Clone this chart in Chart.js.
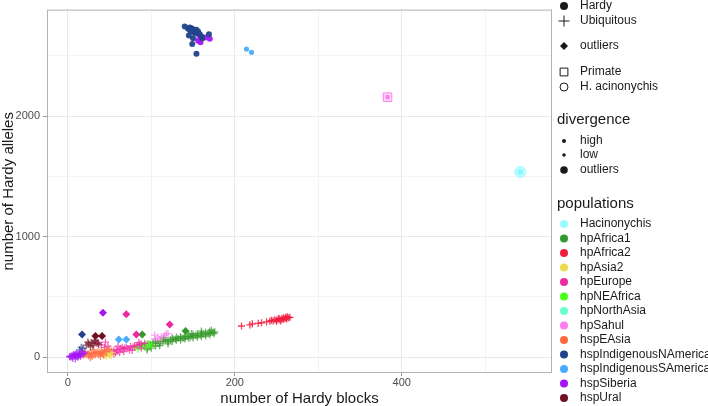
<!DOCTYPE html>
<html>
<head>
<meta charset="utf-8">
<script src="https://cdn.jsdelivr.net/npm/chart.js@4/dist/chart.umd.min.js"></script>
<style>
  html, body { margin:0; padding:0; background:#fff; }
  #wrap { width:708px; height:406px; }
</style>
</head>
<body>
<div id="wrap"><canvas id="c" width="708" height="406"></canvas></div>
<script>
// --- populations & colours ---
const populations = ['Hacinonychis','hpAfrica1','hpAfrica2','hpAsia2','hpEurope','hpNEAfrica','hpNorthAsia',
  'hpSahul','hspEAsia','hspIndigenousNAmerica','hspIndigenousSAmerica','hspSiberia','hspUral'];
const popColors = ['#99fcff','#33992a','#f21d41','#ebdc4f','#ee2a9f','#4cff19','#6bffcc',
  '#ff7cf0','#ff6a3d','#21448a','#4aacff','#a516f5','#6f0f1f'];
const col = name => popColors[populations.indexOf(name)];

// axis ticks (major ones get labels)
const xTicks = [0, 100, 200, 300, 400, 500];
const xLabelled = [0, 200, 400];
const yTicks = [0, 500, 1000, 1500, 2000, 2500];
const yLabelled = [0, 1000, 2000];

// --- Hardy genes (circles) ---
const hardyNAmerica = [[140,2744],[146,2736],[154,2716],[145,2669],[150,2647],[149,2598],[154,2518],[169,2680],
  [161,2647],[151,2698],[156,2702],[150,2720],[152,2690],[158,2680],[147,2705],[160,2660],[144,2725],[148,2730]];
const hardySiberia = [[157,2674],[164,2653],[170,2642],[159,2612],[156,2626]];
const hardySAmerica = [[214,2556],[220,2529]];

// --- Ubiquitous genes (crosses) ---
const ubiSiberia = [[2,5],[4,10],[5,3],[6,15],[8,12],[9,20],[10,8],[11,18],[12,25],[13,14],[14,22],[15,28],
  [16,20],[18,30],[7,22],[3,0],[10,30],[20,35],[6,-10],[12,0],[9,-15],[15,5],[17,45]];
const ubiUral = [[22,100],[25,110],[28,120],[30,95],[32,130],[35,115],[37,105],[27,85],[33,140],[24,125]];
const ubiNAmerica = [[14,60],[16,80],[18,70]];
const ubiEAsia = [[18,15],[20,25],[22,20],[24,30],[26,22],[28,35],[30,28],[32,40],[34,33],[36,45],[38,38],
  [40,50],[42,42],[44,55],[46,48],[48,60],[25,10],[33,18],[41,30],[50,65],[29,5],[37,20],[21,45],[31,60],
  [43,15],[27,-5],[39,5]];
const ubiAsia2 = [[45,20],[47,30],[49,25],[51,35],[53,40],[50,15],[46,5],[52,10]];
const ubiEurope = [[52,45],[55,55],[58,60],[60,50],[63,70],[66,65],[68,75],[70,80],[72,70],[75,90],[78,85],
  [80,95],[83,100],[86,105],[88,110],[92,115],[57,35],[65,80],[74,60],[85,120],[44,80],[48,90],[62,40],
  [30,110],[36,120],[40,100],[45,125],[55,25],[67,45],[77,55],[88,75],[60,90]];
const ubiSahul = [[104,150],[108,165],[112,170],[116,180],[120,195],[110,145],[104,182],[118,195]];
const ubiNEAfrica = [[80,80],[83,90],[86,85],[89,95],[92,100],[95,105],[98,110],[100,100],[84,65],[94,80]];
const ubiAfrica1 = [[90,95],[93,100],[96,110],[99,105],[102,120],[105,115],[108,125],[111,130],[114,128],
  [117,140],[120,135],[123,145],[126,150],[129,148],[132,155],[135,160],[138,158],[141,165],[144,170],
  [147,168],[150,175],[153,180],[156,178],[159,185],[162,190],[165,188],[168,195],[171,200],[174,205],
  [176,210],[100,95],[110,112],[120,125],[130,140],[140,150],[150,160],[160,170],[170,185],[115,145],
  [125,160],[135,170],[145,185],[155,195],[165,205],[95,70],[105,90],[95,60],[100,75],[105,130],[110,95],
  [115,160],[120,110],[125,130],[130,165],[135,140],[140,175],[145,155],[150,190],[155,165],[160,200],
  [165,175],[170,215],[175,195],[172,225],[160,215],[148,195]];
const ubiAfrica2 = [[208,258],[218,268],[221,275],[228,280],[232,285],[238,292],[242,298],[246,300],[248,310],
  [250,305],[252,315],[254,308],[256,318],[258,312],[260,322],[262,318],[264,325],[258,325],[250,298],
  [255,300],[261,330],[266,330],[244,305],[253,322],[263,335]];

// --- outliers (diamonds) ---
const outNAmerica = [[17,188]];
const outUral = [[33,176],[41,176]];
const outSiberia = [[42,369]];
const outEurope = [[70,355],[122,270],[82,188]];
const outSAmerica = [[61,146],[70,146]];
const outAfrica1 = [[89,188],[141,217]];

// --- Primate / H. acinonychis ---
const primate = [[383,2157]];
const acinonychis = [[542,1537]];

// legend entries
const shapeLabels = ['Hardy','Ubiquitous','outliers','Primate','H. acinonychis'];
const divergenceLabels = ['high','low','outliers'];

const FONT = '"Liberation Sans", Arial, sans-serif';
Chart.defaults.font.family = FONT;

const pts = a => a.map(p => ({x:p[0], y:p[1]}));
const alpha = (hex, a) => {
  const n = parseInt(hex.slice(1), 16);
  return `rgba(${n>>16},${(n>>8)&255},${n&255},${a})`;
};

function cross(data, pop, a) {
  return { data: pts(data), pointStyle:'cross', pointRadius:3.6, borderWidth:1.3,
    borderColor: alpha(col(pop), a || 0.7), backgroundColor: alpha(col(pop), a || 0.7) };
}
function circle(data, pop, r) {
  return { data: pts(data), pointStyle:'circle', pointRadius:r, borderWidth:0,
    backgroundColor: alpha(col(pop), 0.95), borderColor: alpha(col(pop), 0.95) };
}
function diamond(data, pop) {
  return { data: pts(data), pointStyle:'rectRot', pointRadius:4, borderWidth:0,
    backgroundColor: col(pop), borderColor: col(pop) };
}

const datasets = [
  cross(ubiSiberia,'hspSiberia'),
  cross(ubiNAmerica,'hspIndigenousNAmerica'),
  cross(ubiUral,'hspUral'),
  cross(ubiEAsia,'hspEAsia'),
  cross(ubiAsia2,'hpAsia2'),
  cross(ubiEurope,'hpEurope'),
  cross(ubiSahul,'hpSahul'),
  cross(ubiNEAfrica,'hpNEAfrica'),
  cross(ubiAfrica1,'hpAfrica1'),
  cross(ubiAfrica2,'hpAfrica2', 0.85),
  diamond(outNAmerica,'hspIndigenousNAmerica'),
  diamond(outUral,'hspUral'),
  diamond(outSiberia,'hspSiberia'),
  diamond(outEurope,'hpEurope'),
  diamond(outSAmerica,'hspIndigenousSAmerica'),
  diamond(outAfrica1,'hpAfrica1'),
  circle(hardyNAmerica,'hspIndigenousNAmerica',3),
  circle(hardySiberia,'hspSiberia',3),
  circle(hardySAmerica,'hspIndigenousSAmerica',2.6),
  { data: pts(primate), pointStyle:'rect', pointRadius:6, borderWidth:1, borderColor: col('hpSahul'),
    backgroundColor: alpha(col('hpSahul'), 0.25) },
  { data: pts(primate), pointStyle:'rect', pointRadius:3, borderWidth:0, backgroundColor: col('hpSahul') },
  { data: pts(acinonychis), pointStyle:'circle', pointRadius:5.5, borderWidth:1, borderColor: alpha(col('Hacinonychis'),0.9),
    backgroundColor: alpha(col('Hacinonychis'), 0.6) },
  { data: pts(acinonychis), pointStyle:'circle', pointRadius:3, borderWidth:0, backgroundColor: '#7ff0f8' }
];

// panel border + right side legend
const sideLegend = {
  id: 'sideLegend',
  afterDatasetsDraw(chart) {
    const {ctx, chartArea: a} = chart;
    ctx.save();
    ctx.strokeStyle = '#b3b3b3';
    ctx.lineWidth = 1;
    ctx.strokeRect(a.left + 0.5, a.top + 0.5, a.right - a.left - 1, a.bottom - a.top - 1);
    ctx.restore();
  },
  afterDraw(chart) {
    const ctx = chart.ctx;
    const draw = Chart.helpers.drawPoint;
    ctx.save();
    ctx.textBaseline = 'middle';
    ctx.textAlign = 'left';
    ctx.fillStyle = '#1a1a1a';
    ctx.strokeStyle = '#1a1a1a';
    ctx.font = '12px ' + FONT;
    const sx = 564, tx = 580;

    // shape legend
    const shapeY = [6, 21, 46, 72, 87];
    const shapeStyle = [
      {pointStyle:'circle', radius:4, borderWidth:0},
      {pointStyle:'cross', radius:5.5, borderWidth:1},
      {pointStyle:'rectRot', radius:4, borderWidth:0},
      {pointStyle:'rect', radius:5.5, borderWidth:1},
      {pointStyle:'circle', radius:4, borderWidth:1}
    ];
    shapeLabels.forEach((lab, i) => {
      const st = shapeStyle[i];
      ctx.fillStyle = i >= 3 ? 'rgba(0,0,0,0)' : '#1a1a1a';
      draw(ctx, st, sx, shapeY[i]);
      ctx.fillStyle = '#1a1a1a';
      ctx.fillText(lab, tx, shapeY[i]);
    });

    // divergence legend
    ctx.font = '15px ' + FONT;
    ctx.fillText('divergence', 557, 120);
    ctx.font = '12px ' + FONT;
    const divY = [141, 155, 170];
    const divR = [2, 1.8, 3.8];
    divergenceLabels.forEach((lab, i) => {
      draw(ctx, {pointStyle:'circle', radius:divR[i], borderWidth:0}, sx, divY[i]);
      ctx.fillText(lab, tx, divY[i]);
    });

    // populations legend
    ctx.font = '15px ' + FONT;
    ctx.fillText('populations', 557, 204);
    ctx.font = '12px ' + FONT;
    populations.forEach((lab, i) => {
      const y = 224 + i * 14.5;
      ctx.fillStyle = popColors[i];
      draw(ctx, {pointStyle:'circle', radius:4, borderWidth:0}, sx, y);
      ctx.fillStyle = '#1a1a1a';
      ctx.fillText(lab, tx, y);
    });
    ctx.restore();
  }
};

new Chart(document.getElementById('c'), {
  type: 'scatter',
  data: { datasets },
  options: {
    responsive: false,
    animation: false,
    layout: { padding: { top: 8, right: 156, left: 0, bottom: 0 } },
    plugins: { legend: { display:false }, tooltip: { enabled:false } },
    scales: {
      x: {
        min: -25, max: 580,
        afterFit: s => { s.height = 33; },
        afterBuildTicks: s => { s.ticks = xTicks.map(v => ({value: v})); },
        border: { display:false },
        grid: {
          color: c => c.tick && xLabelled.includes(c.tick.value) ? '#e9e9e9' : '#f3f3f3',
          tickColor: c => c.tick && xLabelled.includes(c.tick.value) ? '#999' : 'rgba(0,0,0,0)',
          tickLength: 3
        },
        ticks: { padding: 0, color: '#4d4d4d', font: { size: 11 }, maxRotation: 0, autoSkip: false,
          callback: v => xLabelled.includes(v) ? String(v) : '' },
        title: { display:true, text:'number of Hardy blocks', color:'#1a1a1a', font:{ size:15, lineHeight:1.0 }, padding:{top:0,bottom:0} }
      },
      y: {
        min: -132, max: 2884,
        afterFit: s => { s.width = 47; },
        afterBuildTicks: s => { s.ticks = yTicks.map(v => ({value: v})); },
        border: { display:false },
        grid: {
          color: c => c.tick && yLabelled.includes(c.tick.value) ? '#e9e9e9' : '#f3f3f3',
          tickColor: c => c.tick && yLabelled.includes(c.tick.value) ? '#999' : 'rgba(0,0,0,0)',
          tickLength: 4
        },
        ticks: { padding: 3, color: '#4d4d4d', font: { size: 11 }, autoSkip: false,
          callback: v => yLabelled.includes(v) ? String(v) : '' },
        title: { display:true, text:'number of Hardy alleles', color:'#1a1a1a', font:{ size:15 }, padding:{top:0,bottom:0} }
      }
    }
  },
  plugins: [sideLegend]
});
</script>
</body>
</html>
